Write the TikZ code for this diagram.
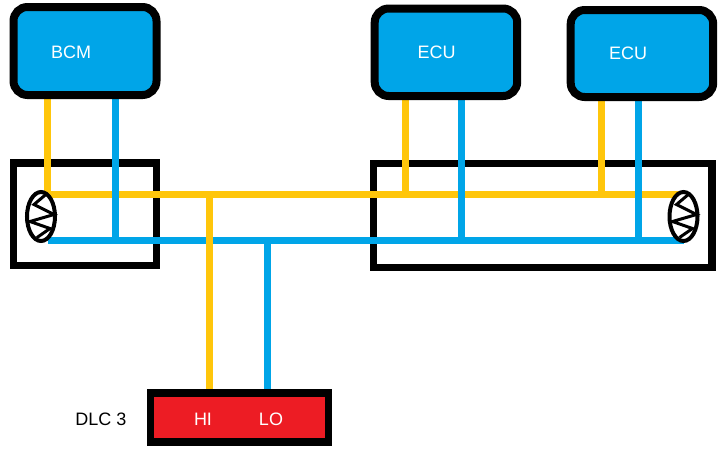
\documentclass[tikz,border=0pt]{standalone}
\usepackage{fontspec}
\setmainfont{Liberation Sans}
\usetikzlibrary{shapes.geometric}
\definecolor{wy}{HTML}{FFC60B}
\definecolor{wb}{HTML}{00A5E8}
\definecolor{dlc}{HTML}{ED1C24}
\tikzset{
  ecubox/.style={draw=black,line width=8pt,fill=wb,rounded corners=14pt,minimum width=143pt,minimum height=88pt,inner sep=0pt,outer sep=0pt,anchor=north west},
  junctionbox/.style={draw=black,line width=7.5pt,fill=white,inner sep=0pt,outer sep=0pt,anchor=north west},
  busY/.style={draw=wy,line width=7pt},
  busB/.style={draw=wb,line width=7pt},
  resistor/.style={ellipse,draw=black,line width=4pt,fill=white,minimum width=28pt,minimum height=49pt,inner sep=0pt,outer sep=0pt},
  zig/.style={draw=black,line width=3pt},
  lbl/.style={font=\fontsize{18}{20}\selectfont,inner sep=0pt},
  wlbl/.style={lbl,text=white}
}
\begin{document}
\begin{tikzpicture}[x=1pt,y=-1pt]
\useasboundingbox (0,0) rectangle (720,448);
% junction boxes
\node[junctionbox,minimum width=143pt,minimum height=102.5pt] (boxL) at (13.5,163) {};
\node[junctionbox,minimum width=338.5pt,minimum height=104pt] (boxR) at (373.5,163.5) {};
% named wire points
\coordinate (yL) at (47.5,194);
\coordinate (yR) at (684,194);
\coordinate (bL) at (47.5,240);
\coordinate (bR) at (684,240);
\coordinate (t1) at (47.5,95);
\coordinate (t2) at (115,95);
\coordinate (t3) at (405.7,96);
\coordinate (t4) at (461.7,96);
\coordinate (t5) at (601.7,97);
\coordinate (t6) at (638,97);
\coordinate (j2) at (115,240);
\coordinate (j3) at (405.7,194);
\coordinate (j4) at (461.7,240);
\coordinate (j5) at (601.7,194);
\coordinate (j6) at (638,240);
\coordinate (j7) at (209.5,194);
\coordinate (j8) at (267,240);
\coordinate (d1) at (209.5,390);
\coordinate (d2) at (267,390);
% buses
\draw[busB] (bL) -- (bR);
\draw[busY] (yL) -- (yR);
% drops
\draw[busY] (t1) -- (yL);
\draw[busB] (t2) -- (j2);
\draw[busY] (t3) -- (j3);
\draw[busB] (t4) -- (j4);
\draw[busY] (t5) -- (j5);
\draw[busB] (t6) -- (j6);
\draw[busB] (j8) -- (d2);
\draw[busY] (j7) -- (d1);
% modules
\node[ecubox] (bcm) at (13.5,7) {};
\node[ecubox,minimum width=142.5pt,minimum height=87.5pt] (ecuA) at (374.7,8.5) {};
\node[ecubox,minimum width=142.5pt,minimum height=87pt] (ecuB) at (570.7,10) {};
\node[wlbl] (tb) at (71,52) {BCM};
\node[wlbl] (ta) at (436.7,52) {ECU};
\node[wlbl] (tc) at (628,53) {ECU};
% terminating resistors
\node[resistor] (rL) at (41,216.5) {};
\node[resistor] (rR) at (683.5,216.5) {};
\foreach \c in {rL,rR}{
  \draw[zig,shift={(\c)}] (6,-23) -- (-7,-12) -- (13,-2) -- (-11,5) -- (9,12) -- (-4,21);
}
% connector
\node[draw=black,line width=7.5pt,fill=dlc,minimum width=178pt,minimum height=49pt,inner sep=0pt,outer sep=0pt,anchor=north west] (dlcbox) at (150.5,393) {};
\node[wlbl] (hi) at (203,419) {HI};
\node[wlbl] (lo) at (271,419) {LO};
\node[lbl] (dl) at (101,419) {DLC 3};
\end{tikzpicture}
\end{document}
